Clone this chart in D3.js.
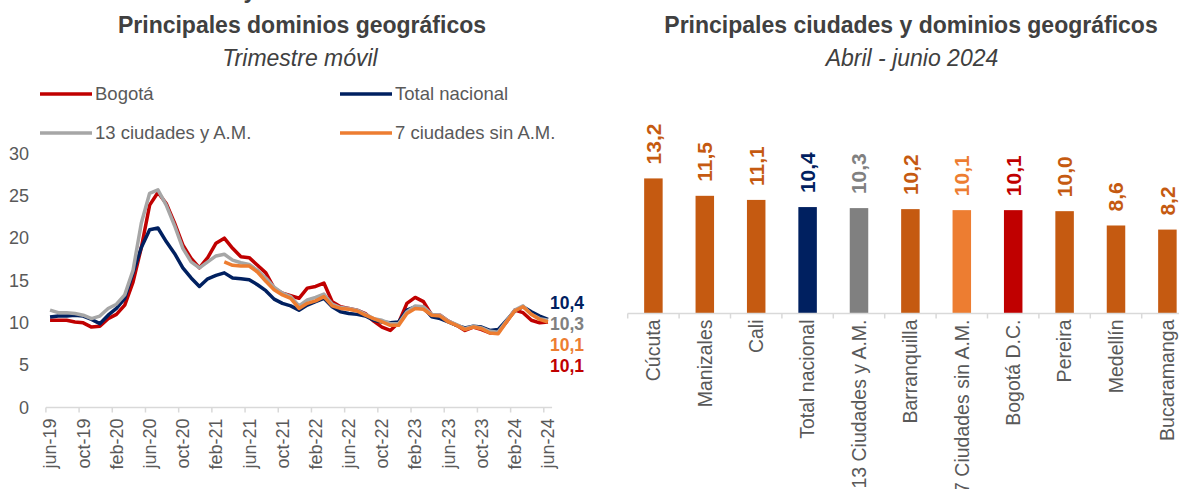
<!DOCTYPE html>
<html>
<head>
<meta charset="utf-8">
<script src="https://cdn.jsdelivr.net/npm/d3@7"></script>
<style>
  body { margin: 0; background: #fff; }
  svg { display: block; font-family: "Liberation Sans", Arial, sans-serif; }
</style>
</head>
<body>
<div id="chart"></div>
<script>
const months = [
  "jun-19","jul-19","ago-19","sep-19","oct-19","nov-19","dic-19","ene-20","feb-20","mar-20","abr-20","may-20",
  "jun-20","jul-20","ago-20","sep-20","oct-20","nov-20","dic-20","ene-21","feb-21","mar-21","abr-21","may-21",
  "jun-21","jul-21","ago-21","sep-21","oct-21","nov-21","dic-21","ene-22","feb-22","mar-22","abr-22","may-22",
  "jun-22","jul-22","ago-22","sep-22","oct-22","nov-22","dic-22","ene-23","feb-23","mar-23","abr-23","may-23",
  "jun-23","jul-23","ago-23","sep-23","oct-23","nov-23","dic-23","ene-24","feb-24","mar-24","abr-24","may-24",
  "jun-24"
];

const bogota = [10.3,10.3,10.3,10.1,10.0,9.5,9.6,10.5,11.0,12.1,14.8,18.9,
  23.9,25.4,24.1,21.8,19.2,17.6,16.5,17.7,19.4,20.0,18.8,17.8,
  17.7,16.8,15.9,14.1,13.5,13.2,12.9,14.1,14.3,14.7,12.5,11.9,
  11.7,11.5,11.1,10.2,9.5,9.1,10.0,12.3,13.0,12.5,10.9,10.9,
  10.2,9.7,9.1,9.5,9.2,8.8,8.9,10.1,11.5,11.2,10.3,10.0,
  10.1];

const totalNacional = [10.7,10.8,10.8,10.9,10.8,10.4,9.9,10.9,11.7,12.9,15.9,18.9,
  21.0,21.2,19.6,18.2,16.5,15.3,14.3,15.2,15.6,15.9,15.3,15.2,
  15.1,14.5,13.8,12.8,12.3,12.0,11.5,12.1,12.5,12.9,11.9,11.3,
  11.1,11.0,10.8,10.3,10.1,10.0,10.1,11.5,11.9,11.8,10.7,10.5,
  10.1,9.7,9.4,9.6,9.5,9.1,9.2,10.3,11.4,11.9,11.3,10.8,
  10.4];

const ciudades13 = [11.5,11.2,11.2,11.1,10.9,10.5,10.8,11.7,12.2,13.3,16.2,21.8,
  25.3,25.7,23.9,21.5,18.8,17.2,16.5,17.2,17.9,18.1,17.4,17.1,
  16.9,16.2,15.3,14.2,13.5,13.1,12.0,12.7,13.0,13.4,12.2,11.8,
  11.7,11.5,11.0,10.5,10.3,9.9,9.9,11.3,12.0,11.9,11.0,10.9,
  10.2,9.8,9.3,9.6,9.4,9.0,8.9,10.2,11.5,12.0,11.0,10.5,
  10.3];

// 7 ciudades sin A.M. only starts in mar-21
const ciudades7 = [null,null,null,null,null,null,null,null,null,null,null,null,
  null,null,null,null,null,null,null,null,null,17.2,16.8,16.7,
  16.7,16.0,14.9,13.9,13.3,12.9,11.7,12.3,12.6,13.1,12.0,11.7,
  11.6,11.4,10.9,10.5,10.1,9.7,9.7,11.1,11.7,11.6,10.9,10.8,
  10.1,9.7,9.2,9.5,9.3,8.8,8.7,10.1,11.4,11.9,11.0,10.4,
  10.1];

const seriesNames = ["Bogotá", "Total nacional", "13 ciudades y A.M.", "7 ciudades sin A.M."];
const seriesColors = ["#C00000", "#002060", "#A6A6A6", "#ED7D31"];
const endLabelColors = ["#C00000", "#002060", "#808080", "#ED7D31"];
const yTicks = [0, 5, 10, 15, 20, 25, 30];

const cities = ["Cúcuta", "Manizales", "Cali", "Total nacional", "13 Ciudades y A.M.", "Barranquilla",
  "7 Ciudades sin A.M.", "Bogotá D.C.", "Pereira", "Medellín", "Bucaramanga"];
const cityValues = [13.2, 11.5, 11.1, 10.4, 10.3, 10.2, 10.1, 10.1, 10.0, 8.6, 8.2];
const cityBarColors = ["#C55A11", "#C55A11", "#C55A11", "#002060", "#808080", "#C55A11",
  "#ED7D31", "#C00000", "#C55A11", "#C55A11", "#C55A11"];
const cityLabelColors = ["#C55A11", "#C55A11", "#C55A11", "#002060", "#808080", "#C55A11",
  "#ED7D31", "#C00000", "#C55A11", "#C55A11", "#C55A11"];

const fmt = function(v) { return d3.format(".1f")(v).replace(".", ","); };

const width = 1179, height = 489;
const svg = d3.select("#chart").append("svg")
  .attr("width", width)
  .attr("height", height);

const titleColor = "#404040", textColor = "#595959", axisColor = "#D9D9D9";

// leftover of a title line above the picture
svg.append("text").attr("x", 250).attr("y", -2).attr("text-anchor", "middle")
  .attr("font-size", "23px").attr("font-weight", "bold").attr("fill", titleColor).text("y");

// ---------- left: line chart ----------
svg.append("text").attr("x", 302).attr("y", 33).attr("text-anchor", "middle")
  .attr("font-size", "23px").attr("font-weight", "bold").attr("fill", titleColor)
  .text("Principales dominios geográficos");
svg.append("text").attr("x", 300).attr("y", 66).attr("text-anchor", "middle")
  .attr("font-size", "23px").attr("font-style", "italic").attr("fill", titleColor)
  .text("Trimestre móvil");

const legendPos = [[40, 94], [340, 94], [40, 133], [340, 133]];
seriesNames.forEach(function(name, i) {
  const p = legendPos[i];
  svg.append("line").attr("x1", p[0]).attr("x2", p[0] + 52).attr("y1", p[1]).attr("y2", p[1])
    .attr("stroke", seriesColors[i]).attr("stroke-width", 3.5);
  svg.append("text").attr("x", p[0] + 55).attr("y", p[1]).attr("dy", "0.35em")
    .attr("font-size", "18.5px").attr("fill", textColor).text(name);
});

const x = d3.scaleBand().domain(months).range([45.9, 552.1]).padding(0);
const y = d3.scaleLinear().domain([0, 30]).range([407.5, 153.5]);

const gLeft = svg.append("g");

gLeft.selectAll(".ytick")
  .data(yTicks)
  .join("text")
  .attr("x", 29)
  .attr("y", function(d) { return y(d); })
  .attr("dy", "0.35em")
  .attr("text-anchor", "end")
  .attr("font-size", "18px")
  .attr("fill", textColor)
  .text(function(d) { return d; });

gLeft.append("line")
  .attr("x1", x.range()[0]).attr("x2", x.range()[1])
  .attr("y1", y(0)).attr("y2", y(0))
  .attr("stroke", axisColor).attr("stroke-width", 1.5);

const labelMonths = months.filter(function(d, i) { return i % 4 === 0; });

gLeft.selectAll(".xtick")
  .data(labelMonths)
  .join("line")
  .attr("x1", function(d) { return x(d); })
  .attr("x2", function(d) { return x(d); })
  .attr("y1", y(0)).attr("y2", y(0) + 5)
  .attr("stroke", axisColor).attr("stroke-width", 1.5);

gLeft.selectAll(".xlabel")
  .data(labelMonths)
  .join("text")
  .attr("transform", function(d) {
    return "translate(" + (x(d) + x.bandwidth() / 2) + "," + (y(0) + 11) + ") rotate(-90)";
  })
  .attr("dy", "0.35em")
  .attr("text-anchor", "end")
  .attr("font-size", "18px")
  .attr("fill", textColor)
  .text(function(d) { return d; });

const line = d3.line()
  .defined(function(d) { return d !== null; })
  .x(function(d, i) { return x(months[i]) + x.bandwidth() / 2; })
  .y(function(d) { return y(d); });

const allSeries = [bogota, totalNacional, ciudades13, ciudades7];

gLeft.selectAll(".series")
  .data(allSeries)
  .join("path")
  .attr("fill", "none")
  .attr("stroke", function(d, i) { return seriesColors[i]; })
  .attr("stroke-width", 3.5)
  .attr("stroke-linejoin", "round")
  .attr("d", line);

// end-of-line value labels (stacked to the right)
const endOrder = [1, 2, 3, 0];
const endY = [303, 324, 345, 366];
endOrder.forEach(function(s, k) {
  const series = allSeries[s];
  gLeft.append("text")
    .attr("x", 550)
    .attr("y", endY[k])
    .attr("dy", "0.35em")
    .attr("font-size", "17.5px")
    .attr("font-weight", "bold")
    .attr("fill", endLabelColors[s])
    .text(fmt(series[series.length - 1]));
});

// ---------- right: bar chart ----------
svg.append("text").attr("x", 911).attr("y", 33).attr("text-anchor", "middle")
  .attr("font-size", "23px").attr("font-weight", "bold").attr("fill", titleColor)
  .text("Principales ciudades y dominios geográficos");
svg.append("text").attr("x", 912).attr("y", 66).attr("text-anchor", "middle")
  .attr("font-size", "23px").attr("font-style", "italic").attr("fill", titleColor)
  .text("Abril - junio 2024");

const xb = d3.scaleBand().domain(cities).range([627.7, 627.7 + 51.4 * cities.length]).padding(0);
const yb = d3.scaleLinear().domain([0, 15]).range([313.5, 160]);
const barW = 18.5;

const gRight = svg.append("g");

gRight.selectAll(".bar")
  .data(cities)
  .join("rect")
  .attr("x", function(d) { return xb(d) + xb.bandwidth() / 2 - barW / 2; })
  .attr("y", function(d, i) { return yb(cityValues[i]); })
  .attr("width", barW)
  .attr("height", function(d, i) { return yb(0) - yb(cityValues[i]); })
  .attr("fill", function(d, i) { return cityBarColors[i]; });

gRight.append("line")
  .attr("x1", xb.range()[0]).attr("x2", xb.range()[1])
  .attr("y1", yb(0)).attr("y2", yb(0))
  .attr("stroke", axisColor).attr("stroke-width", 1.5);

gRight.selectAll(".btick")
  .data(cities)
  .join("line")
  .attr("x1", function(d) { return xb(d); })
  .attr("x2", function(d) { return xb(d); })
  .attr("y1", yb(0)).attr("y2", yb(0) + 5)
  .attr("stroke", axisColor).attr("stroke-width", 1.5);

gRight.selectAll(".blabel")
  .data(cities)
  .join("text")
  .attr("transform", function(d) {
    return "translate(" + (xb(d) + xb.bandwidth() / 2) + "," + (yb(0) + 6) + ") rotate(-90)";
  })
  .attr("dy", "0.35em")
  .attr("text-anchor", "end")
  .attr("font-size", "19.5px")
  .attr("fill", textColor)
  .text(function(d) { return d; });

gRight.selectAll(".bvalue")
  .data(cities)
  .join("text")
  .attr("transform", function(d, i) {
    return "translate(" + (xb(d) + xb.bandwidth() / 2) + "," + (yb(cityValues[i]) - 14) + ") rotate(-90)";
  })
  .attr("dy", "0.35em")
  .attr("text-anchor", "start")
  .attr("font-size", "21px")
  .attr("font-weight", "bold")
  .attr("fill", function(d, i) { return cityLabelColors[i]; })
  .text(function(d, i) { return fmt(cityValues[i]); });
</script>
</body>
</html>
